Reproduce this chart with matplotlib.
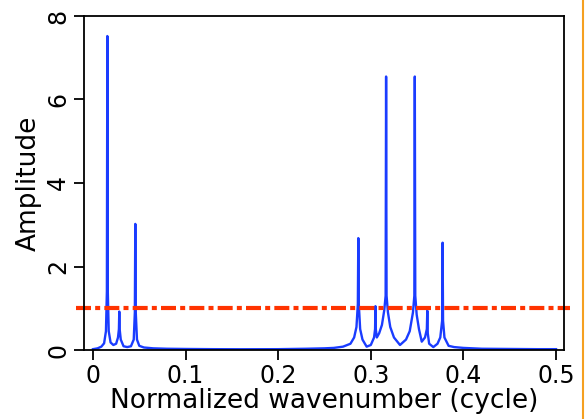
import matplotlib as mpl
mpl.use('Agg')
import matplotlib.pyplot as plt
from matplotlib.lines import Line2D

# spectrum outline (wavenumber, amplitude)
wavenumber = [
    0.0, 0.005, 0.009, 0.012, 0.0140, 0.0150, 0.0155, 0.0160, 0.0170, 0.019,
    0.022, 0.025, 0.0270, 0.0280, 0.0284, 0.0288, 0.0300, 0.033, 0.037, 0.041,
    0.0440, 0.0452, 0.0457, 0.0462, 0.0475, 0.050, 0.055, 0.065, 0.08, 0.10,
    0.13, 0.16, 0.20, 0.23, 0.25,
    0.26, 0.27, 0.278, 0.282, 0.2845, 0.2860, 0.2865, 0.2870, 0.2885, 0.291,
    0.2955, 0.300, 0.3035, 0.3046, 0.3050, 0.3054, 0.3065, 0.309, 0.312, 0.3145,
    0.3160, 0.3165, 0.3170, 0.3185, 0.321, 0.325, 0.3315, 0.338, 0.342, 0.3455,
    0.3470, 0.3475, 0.3480, 0.3495, 0.352, 0.355, 0.3585, 0.3605, 0.3610, 0.3615,
    0.363, 0.3675, 0.372, 0.375, 0.3770, 0.3775, 0.3780, 0.3795, 0.384, 0.39,
    0.40, 0.42, 0.45, 0.48, 0.50,
]
amplitude = [
    0.02, 0.04, 0.08, 0.16, 0.45, 1.4, 7.52, 1.4, 0.45, 0.18,
    0.12, 0.15, 0.30, 0.50, 0.92, 0.50, 0.25, 0.09, 0.07, 0.09,
    0.25, 0.90, 3.02, 0.90, 0.25, 0.10, 0.06, 0.04, 0.03, 0.025,
    0.02, 0.018, 0.02, 0.03, 0.04,
    0.05, 0.08, 0.15, 0.30, 0.55, 1.1, 2.68, 1.1, 0.50, 0.25,
    0.08, 0.12, 0.30, 0.50, 1.05, 0.50, 0.30, 0.40, 0.60, 0.95,
    1.3, 6.55, 1.3, 0.90, 0.55, 0.30, 0.12, 0.25, 0.45, 0.90,
    1.3, 6.55, 1.3, 0.85, 0.50, 0.20, 0.30, 0.50, 0.94, 0.40,
    0.15, 0.07, 0.15, 0.30, 0.70, 2.57, 0.70, 0.30, 0.10, 0.07,
    0.05, 0.03, 0.025, 0.02, 0.02,
]
threshold = 1.0
xticks = [0, 0.1, 0.2, 0.3, 0.4, 0.5]
xticklabels = ['0', '0.1', '0.2', '0.3', '0.4', '0.5']
yticks = [0, 2, 4, 6, 8]

fig = plt.figure(figsize=(5.85, 4.19), dpi=100)
ax = fig.add_axes([84 / 585, 69 / 419, 480 / 585, 334 / 419])

ax.plot(wavenumber, amplitude, color='#1a3cff', lw=1.7)
ax.plot([-0.018, 0.515], [threshold, threshold], color='#ff3300', lw=3,
        dashes=(3.6, 1, 1.2, 1), clip_on=False)

ax.set_xlim(-0.0097, 0.5086)
ax.set_ylim(0, 8)
ax.set_xticks(xticks)
ax.set_xticklabels(xticklabels)
ax.set_yticks(yticks)
ax.tick_params(direction='out', length=7, width=1.3, labelsize=17, pad=3)
for lab in ax.get_yticklabels():
    lab.set_rotation(90)
    lab.set_va('center')
for s in ax.spines.values():
    s.set_linewidth(1.3)

ax.set_xlabel('Normalized wavenumber (cycle)', fontsize=19, labelpad=0)
ax.set_ylabel('Amplitude', fontsize=19, labelpad=3)

fig.add_artist(Line2D([583 / 585, 583 / 585], [0, 1], color='#f5a020', lw=1.5))

fig.savefig('out.png', dpi=100)
